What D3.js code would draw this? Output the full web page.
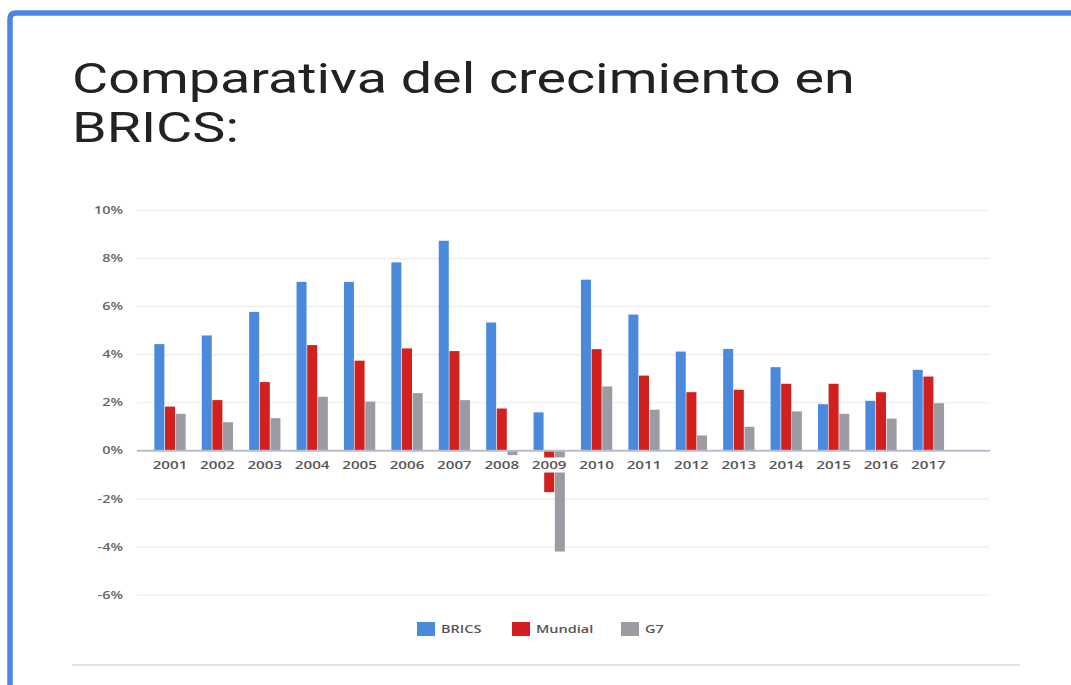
<!DOCTYPE html>
<html>
<head>
<meta charset="utf-8">
<script src="https://cdn.jsdelivr.net/npm/d3@7"></script>
<style>
  html, body { margin: 0; padding: 0; background: #fff; }
  svg { display: block; }
</style>
</head>
<body>
<svg id="chart" width="1071" height="685"></svg>
<script>
// data (% growth)
const years = ["2001","2002","2003","2004","2005","2006","2007","2008","2009",
               "2010","2011","2012","2013","2014","2015","2016","2017"];
const brics   = [4.44, 4.80, 5.78, 7.03, 7.03, 7.84, 8.74, 5.34, 1.60, 7.12, 5.67, 4.13, 4.24, 3.48, 1.94, 2.08, 3.37];
const mundial = [1.84, 2.11, 2.86, 4.40, 3.75, 4.26, 4.15, 1.76, -1.72, 4.23, 3.13, 2.44, 2.54, 2.79, 2.79, 2.44, 3.09];
const g7      = [1.54, 1.19, 1.36, 2.25, 2.05, 2.40, 2.11, -0.18, -4.19, 2.68, 1.71, 0.64, 1.00, 1.64, 1.54, 1.34, 1.98];
const seriesNames = ["BRICS", "Mundial", "G7"];
const yTicks = [10, 8, 6, 4, 2, 0, -2, -4, -6];

const colors = { BRICS: "#4a89dc", Mundial: "#d2201f", G7: "#9c9ba4" };

const svg = d3.select("#chart");
const W = 1071, H = 685;
// the screenshot is stretched sideways, so small text gets widened too
const textStretch = 1.38;

// card frame
svg.append("rect").attr("width", W).attr("height", H).attr("fill", "#fff");
svg.append("path")
  .attr("d", "M10,685 L10,19 Q10,13 16,13 L1071,13")
  .attr("fill", "none")
  .attr("stroke", "#4a86e8")
  .attr("stroke-width", 5.5);

// title, widened to the width it has in the picture
const titleG = svg.append("g");
const title = titleG.append("text")
  .attr("font-family", "Roboto, 'Open Sans', sans-serif")
  .attr("font-size", 42)
  .attr("font-weight", 400)
  .attr("fill", "#222");
const line1 = title.append("tspan").attr("x", 0).attr("y", 93).text("Comparativa del crecimiento en");
title.append("tspan").attr("x", 0).attr("y", 142).text("BRICS:");
const w1 = line1.node().getComputedTextLength() || 600;
titleG.attr("transform", `translate(72,0) scale(${783 / w1},1)`);

// scales
const y = d3.scaleLinear().domain([-6, 10]).range([595, 210.5]);
const x0 = d3.scaleBand().domain(years).range([146.3, 952.1])
  .paddingInner(0.34).paddingOuter(0.17);
const x1 = d3.scaleBand().domain(seriesNames).range([0, x0.bandwidth()]).paddingInner(0.06);

const gridX0 = 137, gridX1 = 990;

// gridlines
svg.append("g").selectAll("line")
  .data(yTicks.filter(d => d !== 0))
  .join("line")
  .attr("x1", gridX0).attr("x2", gridX1)
  .attr("y1", d => y(d)).attr("y2", d => y(d))
  .attr("stroke", "#ececec").attr("stroke-width", 1.2);

// y tick labels
svg.append("g").selectAll("g")
  .data(yTicks)
  .join("g")
  .attr("transform", d => `translate(123,${y(d)}) scale(${textStretch},1)`)
  .append("text")
  .attr("dy", "0.35em")
  .attr("text-anchor", "end")
  .attr("font-family", "'Open Sans', sans-serif")
  .attr("font-weight", 600)
  .attr("font-size", 10.5)
  .attr("fill", "#666")
  .text(d => d + "%");

// bars
const rows = years.map((yr, i) => ({
  year: yr,
  values: [
    { key: "BRICS", v: brics[i] },
    { key: "Mundial", v: mundial[i] },
    { key: "G7", v: g7[i] }
  ]
}));

const groups = svg.append("g").selectAll("g")
  .data(rows)
  .join("g")
  .attr("transform", d => `translate(${x0(d.year)},0)`);

groups.selectAll("rect")
  .data(d => d.values)
  .join("rect")
  .attr("x", d => x1(d.key))
  .attr("width", x1.bandwidth())
  .attr("y", d => y(Math.max(0, d.v)))
  .attr("height", d => Math.abs(y(d.v) - y(0)))
  .attr("fill", d => colors[d.key]);

// year labels with white backing
const xl = svg.append("g").selectAll("g")
  .data(years)
  .join("g")
  .attr("transform", d => `translate(${x0(d) + x0.bandwidth() / 2},465)`);
xl.append("rect")
  .attr("x", -19).attr("y", -7.5).attr("width", 38).attr("height", 15)
  .attr("fill", "#fff");
xl.append("text")
  .attr("transform", `scale(${textStretch},1)`)
  .attr("text-anchor", "middle")
  .attr("dy", "0.35em")
  .attr("font-family", "'Open Sans', sans-serif")
  .attr("font-weight", 600)
  .attr("font-size", 11)
  .attr("fill", "#555")
  .text(d => d);

// zero line
svg.append("line")
  .attr("x1", gridX0).attr("x2", gridX1)
  .attr("y1", y(0)).attr("y2", y(0))
  .attr("stroke", "#b4bccd").attr("stroke-width", 2);

// legend
const legendX = [417, 512, 621];
const leg = svg.append("g").selectAll("g")
  .data(seriesNames)
  .join("g")
  .attr("transform", (d, i) => `translate(${legendX[i]},622)`);
leg.append("rect")
  .attr("width", 18).attr("height", 14)
  .attr("fill", d => colors[d]);
leg.append("text")
  .attr("transform", `translate(24,7) scale(${textStretch},1)`)
  .attr("dy", "0.35em")
  .attr("font-family", "'Open Sans', sans-serif")
  .attr("font-weight", 600)
  .attr("font-size", 10.5)
  .attr("fill", "#555")
  .text(d => d);

// bottom separator
svg.append("line")
  .attr("x1", 72).attr("x2", 1020)
  .attr("y1", 665).attr("y2", 665)
  .attr("stroke", "#e4e4e4").attr("stroke-width", 2);
</script>
</body>
</html>
